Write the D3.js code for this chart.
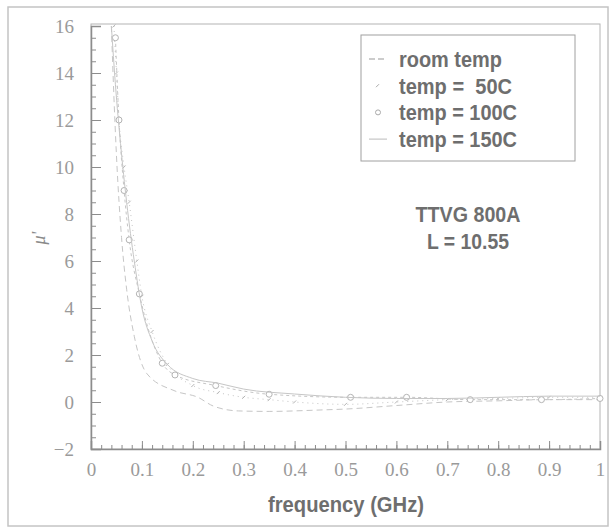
<!DOCTYPE html>
<html>
<head>
    <meta charset="utf-8">
    <style>
        body { margin: 0; background: #fff; }
        svg { display: block; }
    </style>
</head>
<body>
    <script src="https://d3js.org/d3.v7.min.js"></script>
    <div id="chart"></div>
    <script>
        // series (frequency in GHz, mu')
        let freqRoom = [0.040, 0.045, 0.050, 0.060, 0.070, 0.085, 0.110, 0.165, 0.210, 0.240, 0.290, 0.350, 0.450, 0.500, 0.600, 0.700, 0.800, 0.900, 1.000];
        let muRoom   = [16.0, 13.0, 10.5, 7.0, 4.8, 2.8, 1.2, 0.47, 0.2, -0.17, -0.38, -0.4, -0.34, -0.3, -0.15, 0.0, 0.05, 0.1, 0.1];

        let freq50 = [0.045, 0.050, 0.055, 0.065, 0.075, 0.090, 0.100, 0.120, 0.150, 0.200, 0.250, 0.300, 0.350, 0.400, 0.500, 0.600, 0.700, 0.800, 0.900, 1.000];
        let mu50   = [16.0, 14.0, 12.0, 10.0, 8.5, 6.0, 4.5, 3.0, 1.6, 0.7, 0.4, 0.2, 0.1, 0.0, -0.1, 0.0, 0.1, 0.15, 0.2, 0.2];

        let freq100 = [0.048, 0.055, 0.065, 0.075, 0.095, 0.140, 0.165, 0.245, 0.350, 0.510, 0.620, 0.745, 0.885, 1.000];
        let mu100   = [15.5, 12.0, 9.0, 6.9, 4.6, 1.65, 1.15, 0.7, 0.33, 0.2, 0.2, 0.1, 0.1, 0.15];

        let freq150 = [0.040, 0.048, 0.058, 0.070, 0.085, 0.100, 0.120, 0.150, 0.200, 0.250, 0.300, 0.400, 0.500, 0.600, 0.700, 0.800, 0.900, 1.000];
        let mu150   = [16.0, 13.5, 11.0, 8.5, 6.0, 4.0, 2.6, 1.6, 1.0, 0.8, 0.55, 0.34, 0.2, 0.15, 0.15, 0.2, 0.25, 0.25];

        let legendLabels = ["room temp", "temp =  50C", "temp = 100C", "temp = 150C"];
        let xTicks = [0, 0.1, 0.2, 0.3, 0.4, 0.5, 0.6, 0.7, 0.8, 0.9, 1];
        let yTicks = [-2, 0, 2, 4, 6, 8, 10, 12, 14, 16];

        let serif = "'Liberation Serif', 'Times New Roman', 'DejaVu Serif', serif";
        let narrow = "'Liberation Sans Narrow', 'Liberation Sans', Arial, sans-serif";
        let legendWidths = [103, 113, 118, 118];

        let w = 614, h = 529;
        let svg = d3.select("#chart").append("svg")
            .attr("width", w)
            .attr("height", h);

        // scanned page frame
        svg.append("rect")
            .attr("x", 8).attr("y", 7)
            .attr("width", 600).attr("height", 519)
            .attr("fill", "none")
            .attr("stroke", "#c4c4c4")
            .attr("stroke-width", 1.5);

        let x = d3.scaleLinear().domain([0, 1]).range([91, 600]);
        let y = d3.scaleLinear().domain([-2, 16]).range([449, 26]);

        // plot box
        svg.append("rect")
            .attr("x", x(0)).attr("y", y(16) - 2)
            .attr("width", x(1) - x(0)).attr("height", y(-2) - y(16) + 2)
            .attr("fill", "none")
            .attr("stroke", "#b4b4b4");

        function styleAxis(g) {
            g.selectAll("line").attr("stroke", "#8c8c8c");
            g.selectAll("text")
                .style("font-family", serif)
                .style("font-size", "19px")
                .style("fill", "#9a9a9a");
        }

        // minor ticks
        let minorX = d3.range(0, 1.0001, 0.02);
        let minorY = d3.range(-2, 16.0001, 0.5);
        svg.append("g")
            .attr("transform", "translate(0," + y(-2) + ")")
            .call(d3.axisBottom(x).tickValues(minorX).tickSize(-4).tickFormat(""))
            .call(g => g.select(".domain").remove())
            .call(styleAxis);
        svg.append("g")
            .attr("transform", "translate(" + x(0) + ",0)")
            .call(d3.axisLeft(y).tickValues(minorY).tickSize(-5).tickFormat(""))
            .call(g => g.select(".domain").remove())
            .call(styleAxis);

        // major ticks and labels
        svg.append("g")
            .attr("transform", "translate(0," + y(-2) + ")")
            .call(d3.axisBottom(x).tickValues(xTicks).tickSize(-8).tickPadding(14)
                .tickFormat(d => d === 0 || d === 1 ? d : d3.format(".1f")(d)))
            .call(g => g.select(".domain").attr("stroke", "#8c8c8c").attr("stroke-width", 1.5))
            .call(styleAxis);
        svg.append("g")
            .attr("transform", "translate(" + x(0) + ",0)")
            .call(d3.axisLeft(y).tickValues(yTicks).tickSize(-10).tickPadding(17))
            .call(g => g.select(".domain").attr("stroke", "#8c8c8c").attr("stroke-width", 1.5))
            .call(styleAxis);

        // curves
        let series = [
            { f: freqRoom, v: muRoom, dash: "6,4", mark: "none" },
            { f: freq50, v: mu50, dash: "1,4", mark: "tick" },
            { f: freq100, v: mu100, dash: "3,3", mark: "circle" },
            { f: freq150, v: mu150, dash: "none", mark: "none" }
        ];
        let line = d3.line()
            .x(d => x(d[0]))
            .y(d => y(d[1]))
            .curve(d3.curveMonotoneX);

        series.forEach(function(s) {
            let pts = s.f.map((f, i) => [f, s.v[i]]);
            svg.append("path")
                .datum(pts)
                .attr("d", line)
                .attr("fill", "none")
                .attr("stroke", "#c6c6c6")
                .attr("stroke-width", 1)
                .attr("stroke-dasharray", s.dash);
            if (s.mark === "circle") {
                svg.append("g").selectAll("circle")
                    .data(pts).enter().append("circle")
                    .attr("cx", d => x(d[0]))
                    .attr("cy", d => y(d[1]))
                    .attr("r", 3)
                    .attr("fill", "#fff")
                    .attr("stroke", "#b4b4b4");
            } else if (s.mark === "tick") {
                svg.append("g").selectAll("line")
                    .data(pts).enter().append("line")
                    .attr("x1", d => x(d[0]) - 1.5)
                    .attr("x2", d => x(d[0]) + 1.5)
                    .attr("y1", d => y(d[1]) + 1.5)
                    .attr("y2", d => y(d[1]) - 1.5)
                    .attr("stroke", "#b4b4b4");
            }
        });

        // legend
        let lx = 361, ly = 35;
        svg.append("rect")
            .attr("x", lx).attr("y", ly)
            .attr("width", 214).attr("height", 126)
            .attr("fill", "#fff")
            .attr("stroke", "#a0a0a0");
        let leg = svg.append("g").selectAll("g")
            .data(legendLabels).enter().append("g")
            .attr("transform", (d, i) => "translate(" + lx + "," + (ly + 24 + i * 26.7) + ")");
        leg.append("text")
            .attr("x", 38)
            .attr("y", 8)
            .style("font-family", narrow)
            .style("font-weight", "bold")
            .style("font-size", "22px")
            .style("fill", "#6e6e6e")
            .style("white-space", "pre")
            .attr("textLength", (d, i) => legendWidths[i])
            .attr("lengthAdjust", "spacingAndGlyphs")
            .text(d => d);
        leg.filter((d, i) => i === 0).append("line")
            .attr("x1", 8).attr("x2", 26).attr("y1", 0).attr("y2", 0)
            .attr("stroke", "#999").attr("stroke-dasharray", "6,3");
        leg.filter((d, i) => i === 1).append("line")
            .attr("x1", 15).attr("x2", 18).attr("y1", 1.5).attr("y2", -1.5)
            .attr("stroke", "#aaa");
        leg.filter((d, i) => i === 2).append("circle")
            .attr("cx", 17).attr("cy", 0).attr("r", 2.5)
            .attr("fill", "none").attr("stroke", "#aaa");
        leg.filter((d, i) => i === 3).append("line")
            .attr("x1", 8).attr("x2", 26).attr("y1", 0).attr("y2", 0)
            .attr("stroke", "#bbb");

        function narrowText(tx, ty, str, len) {
            svg.append("text")
                .attr("x", tx).attr("y", ty)
                .attr("text-anchor", "middle")
                .attr("textLength", len)
                .attr("lengthAdjust", "spacingAndGlyphs")
                .style("font-family", narrow)
                .style("font-weight", "bold")
                .style("font-size", "22px")
                .style("fill", "#6e6e6e")
                .text(str);
        }

        // annotation
        narrowText(468, 222, "TTVG 800A", 105);
        narrowText(468, 249, "L = 10.55", 82);

        // axis titles
        narrowText(346, 512, "frequency (GHz)", 156);
        svg.append("text")
            .attr("transform", "translate(45,238) rotate(-90)")
            .attr("text-anchor", "middle")
            .style("font-family", serif)
            .style("font-style", "italic")
            .style("font-size", "18px")
            .style("fill", "#8a8a8a")
            .text("\u03bc'");
    </script>
</body>
</html>
